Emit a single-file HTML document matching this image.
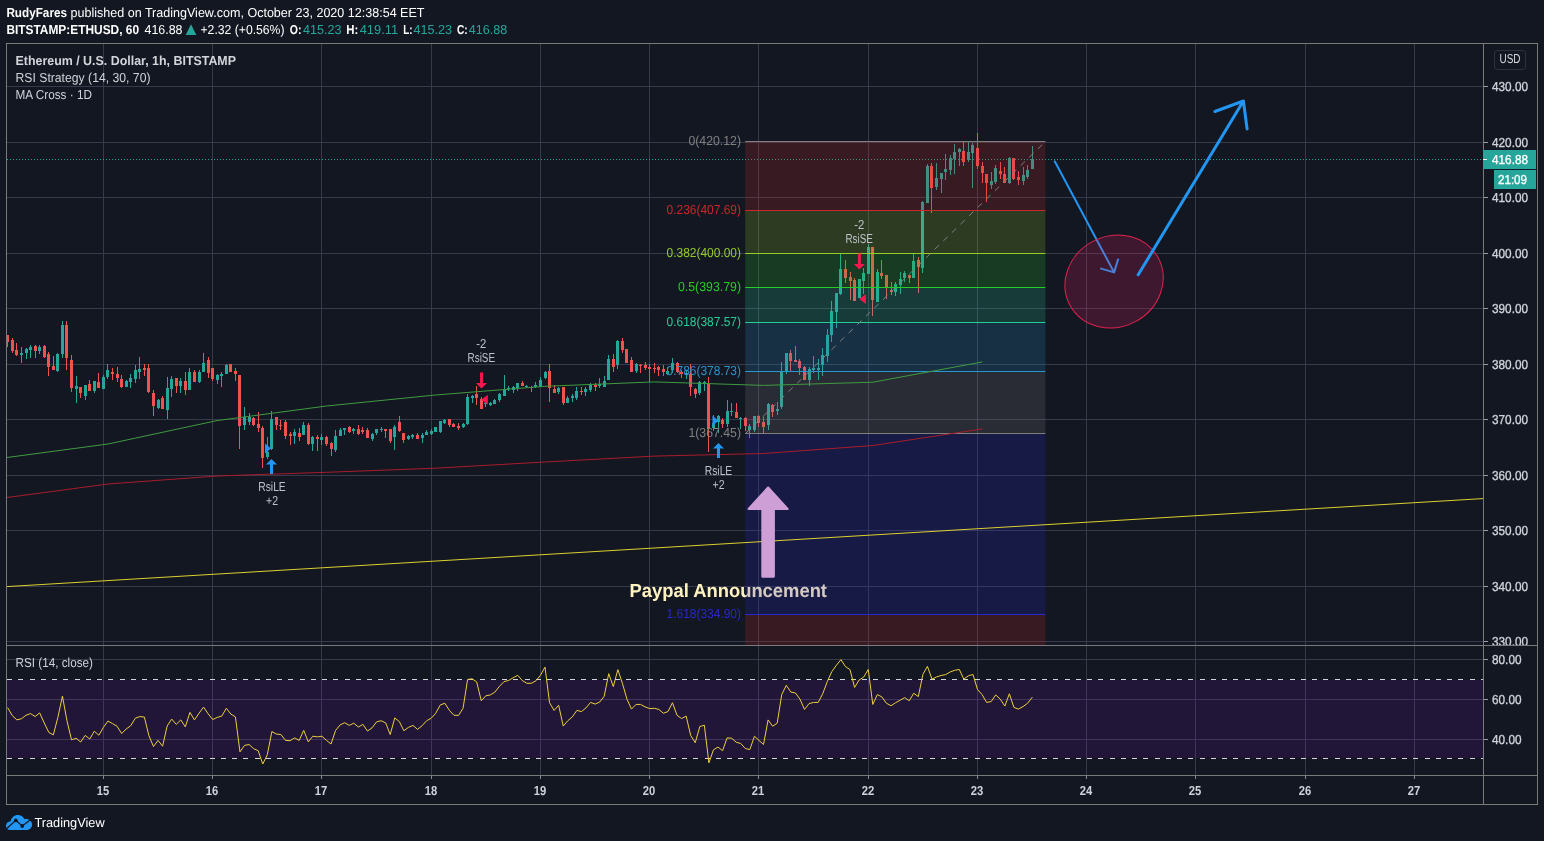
<!DOCTYPE html>
<html><head><meta charset="utf-8"><title>ETHUSD chart</title>
<style>html,body{margin:0;padding:0;background:#131722;}body{width:1544px;height:841px;overflow:hidden;}svg{display:block;}</style>
</head><body>
<svg width="1544" height="841" viewBox="0 0 1544 841" font-family='"Liberation Sans", Arial, sans-serif' shape-rendering="crispEdges" text-rendering="geometricPrecision">
<rect x="0" y="0" width="1544" height="841" fill="#131722"/>
<g id="grid">
<rect x="103" y="44" width="1" height="731" fill="#363a4b"/>
<rect x="212" y="44" width="1" height="731" fill="#363a4b"/>
<rect x="321" y="44" width="1" height="731" fill="#363a4b"/>
<rect x="431" y="44" width="1" height="731" fill="#363a4b"/>
<rect x="540" y="44" width="1" height="731" fill="#363a4b"/>
<rect x="649" y="44" width="1" height="731" fill="#363a4b"/>
<rect x="758" y="44" width="1" height="731" fill="#363a4b"/>
<rect x="868" y="44" width="1" height="731" fill="#363a4b"/>
<rect x="977" y="44" width="1" height="731" fill="#363a4b"/>
<rect x="1086" y="44" width="1" height="731" fill="#363a4b"/>
<rect x="1195" y="44" width="1" height="731" fill="#363a4b"/>
<rect x="1305" y="44" width="1" height="731" fill="#363a4b"/>
<rect x="1414" y="44" width="1" height="731" fill="#363a4b"/>
<rect x="7" y="641" width="1476" height="1" fill="#363a4b"/>
<rect x="7" y="586" width="1476" height="1" fill="#363a4b"/>
<rect x="7" y="530" width="1476" height="1" fill="#363a4b"/>
<rect x="7" y="475" width="1476" height="1" fill="#363a4b"/>
<rect x="7" y="419" width="1476" height="1" fill="#363a4b"/>
<rect x="7" y="364" width="1476" height="1" fill="#363a4b"/>
<rect x="7" y="308" width="1476" height="1" fill="#363a4b"/>
<rect x="7" y="253" width="1476" height="1" fill="#363a4b"/>
<rect x="7" y="197" width="1476" height="1" fill="#363a4b"/>
<rect x="7" y="142" width="1476" height="1" fill="#363a4b"/>
<rect x="7" y="86" width="1476" height="1" fill="#363a4b"/>
<rect x="7" y="659" width="1476" height="1" fill="#363a4b"/>
<rect x="7" y="699" width="1476" height="1" fill="#363a4b"/>
<rect x="7" y="739" width="1476" height="1" fill="#363a4b"/>
</g>
<rect x="7" y="680" width="1476" height="78" fill="#9915ff" fill-opacity="0.1"/>
<line x1="7" y1="679.5" x2="1483" y2="679.5" stroke="#d6d3de" stroke-width="1" stroke-dasharray="5.2 6.05"/>
<line x1="7" y1="758.5" x2="1483" y2="758.5" stroke="#d6d3de" stroke-width="1" stroke-dasharray="5.2 6.05"/>
<line x1="7" y1="159.5" x2="1483" y2="159.5" stroke="#26a69a" stroke-width="1" stroke-dasharray="1 2"/>
<g id="candles">
<rect x="7" y="335" width="1" height="12" fill="#ef5350"/>
<rect x="7" y="335" width="2" height="7" fill="#ef5350"/>
<rect x="12" y="338" width="1" height="15" fill="#ef5350"/>
<rect x="11" y="340" width="3" height="11" fill="#ef5350"/>
<rect x="16" y="343" width="1" height="13" fill="#ef5350"/>
<rect x="15" y="350" width="3" height="5" fill="#ef5350"/>
<rect x="21" y="347" width="1" height="16" fill="#26a69a"/>
<rect x="20" y="353" width="3" height="2" fill="#26a69a"/>
<rect x="26" y="348" width="1" height="11" fill="#26a69a"/>
<rect x="25" y="349" width="3" height="4" fill="#26a69a"/>
<rect x="30" y="345" width="1" height="13" fill="#26a69a"/>
<rect x="29" y="347" width="3" height="3" fill="#26a69a"/>
<rect x="35" y="345" width="1" height="13" fill="#ef5350"/>
<rect x="34" y="346" width="3" height="5" fill="#ef5350"/>
<rect x="39" y="345" width="1" height="9" fill="#26a69a"/>
<rect x="38" y="347" width="3" height="4" fill="#26a69a"/>
<rect x="44" y="345" width="1" height="13" fill="#ef5350"/>
<rect x="43" y="346" width="3" height="11" fill="#ef5350"/>
<rect x="48" y="352" width="1" height="24" fill="#ef5350"/>
<rect x="47" y="354" width="3" height="13" fill="#ef5350"/>
<rect x="53" y="356" width="1" height="14" fill="#ef5350"/>
<rect x="52" y="366" width="3" height="4" fill="#ef5350"/>
<rect x="57" y="353" width="1" height="19" fill="#26a69a"/>
<rect x="56" y="354" width="3" height="17" fill="#26a69a"/>
<rect x="62" y="321" width="1" height="37" fill="#26a69a"/>
<rect x="61" y="325" width="3" height="29" fill="#26a69a"/>
<rect x="66" y="321" width="1" height="49" fill="#ef5350"/>
<rect x="65" y="325" width="3" height="33" fill="#ef5350"/>
<rect x="71" y="355" width="1" height="37" fill="#ef5350"/>
<rect x="70" y="360" width="3" height="28" fill="#ef5350"/>
<rect x="76" y="376" width="1" height="27" fill="#26a69a"/>
<rect x="75" y="386" width="3" height="3" fill="#26a69a"/>
<rect x="80" y="387" width="1" height="11" fill="#ef5350"/>
<rect x="79" y="387" width="3" height="6" fill="#ef5350"/>
<rect x="85" y="385" width="1" height="15" fill="#26a69a"/>
<rect x="84" y="385" width="3" height="11" fill="#26a69a"/>
<rect x="89" y="380" width="1" height="11" fill="#ef5350"/>
<rect x="88" y="384" width="3" height="7" fill="#ef5350"/>
<rect x="94" y="381" width="1" height="12" fill="#26a69a"/>
<rect x="93" y="381" width="3" height="10" fill="#26a69a"/>
<rect x="98" y="373" width="1" height="15" fill="#ef5350"/>
<rect x="97" y="382" width="3" height="6" fill="#ef5350"/>
<rect x="103" y="375" width="1" height="14" fill="#26a69a"/>
<rect x="102" y="377" width="3" height="12" fill="#26a69a"/>
<rect x="107" y="364" width="1" height="15" fill="#26a69a"/>
<rect x="106" y="370" width="3" height="7" fill="#26a69a"/>
<rect x="112" y="368" width="1" height="12" fill="#ef5350"/>
<rect x="111" y="372" width="3" height="2" fill="#ef5350"/>
<rect x="117" y="367" width="1" height="15" fill="#ef5350"/>
<rect x="116" y="374" width="3" height="4" fill="#ef5350"/>
<rect x="121" y="375" width="1" height="13" fill="#ef5350"/>
<rect x="120" y="379" width="3" height="8" fill="#ef5350"/>
<rect x="126" y="380" width="1" height="7" fill="#26a69a"/>
<rect x="125" y="381" width="3" height="6" fill="#26a69a"/>
<rect x="130" y="374" width="1" height="14" fill="#26a69a"/>
<rect x="129" y="378" width="3" height="4" fill="#26a69a"/>
<rect x="135" y="365" width="1" height="18" fill="#26a69a"/>
<rect x="134" y="370" width="3" height="9" fill="#26a69a"/>
<rect x="139" y="357" width="1" height="22" fill="#26a69a"/>
<rect x="138" y="369" width="3" height="3" fill="#26a69a"/>
<rect x="144" y="364" width="1" height="12" fill="#ef5350"/>
<rect x="143" y="368" width="3" height="2" fill="#ef5350"/>
<rect x="148" y="364" width="1" height="29" fill="#ef5350"/>
<rect x="147" y="368" width="3" height="24" fill="#ef5350"/>
<rect x="153" y="390" width="1" height="26" fill="#ef5350"/>
<rect x="152" y="393" width="3" height="13" fill="#ef5350"/>
<rect x="158" y="399" width="1" height="10" fill="#26a69a"/>
<rect x="157" y="400" width="3" height="8" fill="#26a69a"/>
<rect x="162" y="396" width="1" height="13" fill="#ef5350"/>
<rect x="161" y="398" width="3" height="11" fill="#ef5350"/>
<rect x="167" y="377" width="1" height="42" fill="#26a69a"/>
<rect x="166" y="388" width="3" height="22" fill="#26a69a"/>
<rect x="171" y="376" width="1" height="21" fill="#26a69a"/>
<rect x="170" y="379" width="3" height="10" fill="#26a69a"/>
<rect x="176" y="378" width="1" height="15" fill="#ef5350"/>
<rect x="175" y="378" width="3" height="8" fill="#ef5350"/>
<rect x="180" y="378" width="1" height="15" fill="#26a69a"/>
<rect x="179" y="381" width="3" height="5" fill="#26a69a"/>
<rect x="185" y="372" width="1" height="23" fill="#ef5350"/>
<rect x="184" y="381" width="3" height="9" fill="#ef5350"/>
<rect x="189" y="368" width="1" height="22" fill="#26a69a"/>
<rect x="188" y="372" width="3" height="18" fill="#26a69a"/>
<rect x="194" y="370" width="1" height="12" fill="#ef5350"/>
<rect x="193" y="372" width="3" height="10" fill="#ef5350"/>
<rect x="199" y="370" width="1" height="13" fill="#26a69a"/>
<rect x="198" y="372" width="3" height="10" fill="#26a69a"/>
<rect x="203" y="353" width="1" height="19" fill="#26a69a"/>
<rect x="202" y="363" width="3" height="9" fill="#26a69a"/>
<rect x="208" y="357" width="1" height="21" fill="#ef5350"/>
<rect x="207" y="360" width="3" height="13" fill="#ef5350"/>
<rect x="212" y="368" width="1" height="13" fill="#ef5350"/>
<rect x="211" y="368" width="3" height="11" fill="#ef5350"/>
<rect x="217" y="374" width="1" height="10" fill="#26a69a"/>
<rect x="216" y="375" width="3" height="5" fill="#26a69a"/>
<rect x="221" y="372" width="1" height="15" fill="#26a69a"/>
<rect x="220" y="374" width="3" height="2" fill="#26a69a"/>
<rect x="226" y="364" width="1" height="10" fill="#26a69a"/>
<rect x="225" y="365" width="3" height="9" fill="#26a69a"/>
<rect x="230" y="364" width="1" height="8" fill="#ef5350"/>
<rect x="229" y="364" width="3" height="8" fill="#ef5350"/>
<rect x="235" y="368" width="1" height="13" fill="#ef5350"/>
<rect x="234" y="371" width="3" height="3" fill="#ef5350"/>
<rect x="239" y="375" width="1" height="74" fill="#ef5350"/>
<rect x="238" y="375" width="3" height="51" fill="#ef5350"/>
<rect x="244" y="407" width="1" height="23" fill="#26a69a"/>
<rect x="243" y="417" width="3" height="8" fill="#26a69a"/>
<rect x="249" y="413" width="1" height="12" fill="#26a69a"/>
<rect x="248" y="417" width="3" height="5" fill="#26a69a"/>
<rect x="253" y="417" width="1" height="9" fill="#ef5350"/>
<rect x="252" y="418" width="3" height="7" fill="#ef5350"/>
<rect x="258" y="412" width="1" height="20" fill="#ef5350"/>
<rect x="257" y="424" width="3" height="4" fill="#ef5350"/>
<rect x="262" y="426" width="1" height="42" fill="#ef5350"/>
<rect x="261" y="428" width="3" height="30" fill="#ef5350"/>
<rect x="267" y="437" width="1" height="22" fill="#26a69a"/>
<rect x="266" y="452" width="3" height="5" fill="#26a69a"/>
<rect x="271" y="411" width="1" height="39" fill="#26a69a"/>
<rect x="270" y="419" width="3" height="30" fill="#26a69a"/>
<rect x="276" y="417" width="1" height="13" fill="#ef5350"/>
<rect x="275" y="417" width="3" height="8" fill="#ef5350"/>
<rect x="280" y="420" width="1" height="10" fill="#ef5350"/>
<rect x="279" y="425" width="3" height="1" fill="#ef5350"/>
<rect x="285" y="420" width="1" height="19" fill="#ef5350"/>
<rect x="284" y="422" width="3" height="14" fill="#ef5350"/>
<rect x="290" y="432" width="1" height="13" fill="#ef5350"/>
<rect x="289" y="434" width="3" height="2" fill="#ef5350"/>
<rect x="294" y="429" width="1" height="15" fill="#26a69a"/>
<rect x="293" y="432" width="3" height="4" fill="#26a69a"/>
<rect x="299" y="428" width="1" height="13" fill="#ef5350"/>
<rect x="298" y="433" width="3" height="4" fill="#ef5350"/>
<rect x="303" y="422" width="1" height="13" fill="#26a69a"/>
<rect x="302" y="425" width="3" height="10" fill="#26a69a"/>
<rect x="308" y="423" width="1" height="22" fill="#ef5350"/>
<rect x="307" y="425" width="3" height="19" fill="#ef5350"/>
<rect x="312" y="436" width="1" height="15" fill="#26a69a"/>
<rect x="311" y="437" width="3" height="7" fill="#26a69a"/>
<rect x="317" y="435" width="1" height="16" fill="#ef5350"/>
<rect x="316" y="437" width="3" height="2" fill="#ef5350"/>
<rect x="321" y="434" width="1" height="11" fill="#26a69a"/>
<rect x="320" y="437" width="3" height="3" fill="#26a69a"/>
<rect x="326" y="436" width="1" height="10" fill="#ef5350"/>
<rect x="325" y="437" width="3" height="7" fill="#ef5350"/>
<rect x="331" y="442" width="1" height="14" fill="#ef5350"/>
<rect x="330" y="443" width="3" height="6" fill="#ef5350"/>
<rect x="335" y="430" width="1" height="22" fill="#26a69a"/>
<rect x="334" y="436" width="3" height="14" fill="#26a69a"/>
<rect x="340" y="428" width="1" height="8" fill="#26a69a"/>
<rect x="339" y="430" width="3" height="6" fill="#26a69a"/>
<rect x="344" y="428" width="1" height="7" fill="#26a69a"/>
<rect x="343" y="428" width="3" height="2" fill="#26a69a"/>
<rect x="349" y="426" width="1" height="7" fill="#ef5350"/>
<rect x="348" y="427" width="3" height="5" fill="#ef5350"/>
<rect x="353" y="428" width="1" height="6" fill="#26a69a"/>
<rect x="352" y="429" width="3" height="2" fill="#26a69a"/>
<rect x="358" y="425" width="1" height="10" fill="#ef5350"/>
<rect x="357" y="429" width="3" height="5" fill="#ef5350"/>
<rect x="362" y="427" width="1" height="7" fill="#ef5350"/>
<rect x="361" y="430" width="3" height="2" fill="#ef5350"/>
<rect x="367" y="428" width="1" height="10" fill="#ef5350"/>
<rect x="366" y="430" width="3" height="8" fill="#ef5350"/>
<rect x="372" y="433" width="1" height="8" fill="#26a69a"/>
<rect x="371" y="434" width="3" height="5" fill="#26a69a"/>
<rect x="376" y="429" width="1" height="6" fill="#26a69a"/>
<rect x="375" y="429" width="3" height="4" fill="#26a69a"/>
<rect x="381" y="427" width="1" height="5" fill="#26a69a"/>
<rect x="380" y="429" width="3" height="1" fill="#26a69a"/>
<rect x="385" y="429" width="1" height="9" fill="#ef5350"/>
<rect x="384" y="429" width="3" height="2" fill="#ef5350"/>
<rect x="390" y="429" width="1" height="14" fill="#ef5350"/>
<rect x="389" y="429" width="3" height="12" fill="#ef5350"/>
<rect x="394" y="425" width="1" height="25" fill="#26a69a"/>
<rect x="393" y="427" width="3" height="10" fill="#26a69a"/>
<rect x="399" y="416" width="1" height="16" fill="#ef5350"/>
<rect x="398" y="422" width="3" height="9" fill="#ef5350"/>
<rect x="403" y="433" width="1" height="10" fill="#ef5350"/>
<rect x="402" y="433" width="3" height="7" fill="#ef5350"/>
<rect x="408" y="435" width="1" height="5" fill="#26a69a"/>
<rect x="407" y="436" width="3" height="3" fill="#26a69a"/>
<rect x="412" y="434" width="1" height="5" fill="#26a69a"/>
<rect x="411" y="435" width="3" height="2" fill="#26a69a"/>
<rect x="417" y="433" width="1" height="6" fill="#ef5350"/>
<rect x="416" y="435" width="3" height="4" fill="#ef5350"/>
<rect x="422" y="433" width="1" height="10" fill="#26a69a"/>
<rect x="421" y="435" width="3" height="3" fill="#26a69a"/>
<rect x="426" y="430" width="1" height="5" fill="#26a69a"/>
<rect x="425" y="432" width="3" height="3" fill="#26a69a"/>
<rect x="431" y="429" width="1" height="6" fill="#26a69a"/>
<rect x="430" y="431" width="3" height="3" fill="#26a69a"/>
<rect x="435" y="427" width="1" height="5" fill="#26a69a"/>
<rect x="434" y="427" width="3" height="5" fill="#26a69a"/>
<rect x="440" y="421" width="1" height="12" fill="#26a69a"/>
<rect x="439" y="421" width="3" height="11" fill="#26a69a"/>
<rect x="444" y="419" width="1" height="5" fill="#26a69a"/>
<rect x="443" y="420" width="3" height="3" fill="#26a69a"/>
<rect x="449" y="419" width="1" height="8" fill="#ef5350"/>
<rect x="448" y="419" width="3" height="6" fill="#ef5350"/>
<rect x="453" y="423" width="1" height="4" fill="#ef5350"/>
<rect x="452" y="424" width="3" height="3" fill="#ef5350"/>
<rect x="458" y="423" width="1" height="7" fill="#ef5350"/>
<rect x="457" y="426" width="3" height="2" fill="#ef5350"/>
<rect x="463" y="423" width="1" height="5" fill="#26a69a"/>
<rect x="462" y="424" width="3" height="3" fill="#26a69a"/>
<rect x="467" y="394" width="1" height="31" fill="#26a69a"/>
<rect x="466" y="397" width="3" height="27" fill="#26a69a"/>
<rect x="472" y="395" width="1" height="8" fill="#26a69a"/>
<rect x="471" y="396" width="3" height="2" fill="#26a69a"/>
<rect x="476" y="386" width="1" height="19" fill="#ef5350"/>
<rect x="475" y="394" width="3" height="4" fill="#ef5350"/>
<rect x="481" y="397" width="1" height="12" fill="#ef5350"/>
<rect x="480" y="399" width="3" height="10" fill="#ef5350"/>
<rect x="485" y="402" width="1" height="5" fill="#26a69a"/>
<rect x="484" y="403" width="3" height="1" fill="#26a69a"/>
<rect x="490" y="402" width="1" height="4" fill="#26a69a"/>
<rect x="489" y="403" width="3" height="2" fill="#26a69a"/>
<rect x="494" y="399" width="1" height="5" fill="#26a69a"/>
<rect x="493" y="400" width="3" height="4" fill="#26a69a"/>
<rect x="499" y="393" width="1" height="9" fill="#26a69a"/>
<rect x="498" y="394" width="3" height="6" fill="#26a69a"/>
<rect x="504" y="375" width="1" height="21" fill="#26a69a"/>
<rect x="503" y="390" width="3" height="6" fill="#26a69a"/>
<rect x="508" y="386" width="1" height="5" fill="#26a69a"/>
<rect x="507" y="388" width="3" height="1" fill="#26a69a"/>
<rect x="513" y="386" width="1" height="7" fill="#26a69a"/>
<rect x="512" y="387" width="3" height="3" fill="#26a69a"/>
<rect x="517" y="383" width="1" height="8" fill="#26a69a"/>
<rect x="516" y="383" width="3" height="5" fill="#26a69a"/>
<rect x="522" y="381" width="1" height="5" fill="#ef5350"/>
<rect x="521" y="383" width="3" height="3" fill="#ef5350"/>
<rect x="526" y="385" width="1" height="3" fill="#26a69a"/>
<rect x="525" y="386" width="3" height="1" fill="#26a69a"/>
<rect x="531" y="386" width="1" height="6" fill="#ef5350"/>
<rect x="530" y="387" width="3" height="1" fill="#ef5350"/>
<rect x="535" y="382" width="1" height="6" fill="#26a69a"/>
<rect x="534" y="385" width="3" height="2" fill="#26a69a"/>
<rect x="540" y="377" width="1" height="10" fill="#26a69a"/>
<rect x="539" y="380" width="3" height="7" fill="#26a69a"/>
<rect x="545" y="371" width="1" height="8" fill="#26a69a"/>
<rect x="544" y="372" width="3" height="6" fill="#26a69a"/>
<rect x="549" y="364" width="1" height="38" fill="#ef5350"/>
<rect x="548" y="371" width="3" height="17" fill="#ef5350"/>
<rect x="554" y="385" width="1" height="8" fill="#ef5350"/>
<rect x="553" y="389" width="3" height="4" fill="#ef5350"/>
<rect x="558" y="387" width="1" height="7" fill="#26a69a"/>
<rect x="557" y="388" width="3" height="4" fill="#26a69a"/>
<rect x="563" y="387" width="1" height="18" fill="#ef5350"/>
<rect x="562" y="387" width="3" height="16" fill="#ef5350"/>
<rect x="567" y="396" width="1" height="7" fill="#26a69a"/>
<rect x="566" y="398" width="3" height="5" fill="#26a69a"/>
<rect x="572" y="394" width="1" height="8" fill="#26a69a"/>
<rect x="571" y="396" width="3" height="2" fill="#26a69a"/>
<rect x="576" y="387" width="1" height="13" fill="#26a69a"/>
<rect x="575" y="391" width="3" height="7" fill="#26a69a"/>
<rect x="581" y="387" width="1" height="8" fill="#ef5350"/>
<rect x="580" y="391" width="3" height="1" fill="#ef5350"/>
<rect x="585" y="387" width="1" height="9" fill="#26a69a"/>
<rect x="584" y="389" width="3" height="3" fill="#26a69a"/>
<rect x="590" y="383" width="1" height="9" fill="#26a69a"/>
<rect x="589" y="385" width="3" height="5" fill="#26a69a"/>
<rect x="595" y="383" width="1" height="8" fill="#ef5350"/>
<rect x="594" y="385" width="3" height="2" fill="#ef5350"/>
<rect x="599" y="378" width="1" height="10" fill="#26a69a"/>
<rect x="598" y="384" width="3" height="2" fill="#26a69a"/>
<rect x="604" y="376" width="1" height="11" fill="#26a69a"/>
<rect x="603" y="381" width="3" height="6" fill="#26a69a"/>
<rect x="608" y="355" width="1" height="25" fill="#26a69a"/>
<rect x="607" y="359" width="3" height="21" fill="#26a69a"/>
<rect x="613" y="354" width="1" height="18" fill="#ef5350"/>
<rect x="612" y="359" width="3" height="8" fill="#ef5350"/>
<rect x="617" y="340" width="1" height="29" fill="#26a69a"/>
<rect x="616" y="341" width="3" height="24" fill="#26a69a"/>
<rect x="622" y="338" width="1" height="15" fill="#ef5350"/>
<rect x="621" y="341" width="3" height="9" fill="#ef5350"/>
<rect x="626" y="349" width="1" height="14" fill="#ef5350"/>
<rect x="625" y="349" width="3" height="14" fill="#ef5350"/>
<rect x="631" y="357" width="1" height="15" fill="#ef5350"/>
<rect x="630" y="360" width="3" height="12" fill="#ef5350"/>
<rect x="636" y="363" width="1" height="10" fill="#26a69a"/>
<rect x="635" y="364" width="3" height="7" fill="#26a69a"/>
<rect x="640" y="364" width="1" height="9" fill="#ef5350"/>
<rect x="639" y="365" width="3" height="1" fill="#ef5350"/>
<rect x="645" y="362" width="1" height="8" fill="#ef5350"/>
<rect x="644" y="365" width="3" height="3" fill="#ef5350"/>
<rect x="649" y="364" width="1" height="18" fill="#ef5350"/>
<rect x="648" y="367" width="3" height="2" fill="#ef5350"/>
<rect x="654" y="363" width="1" height="10" fill="#ef5350"/>
<rect x="653" y="368" width="3" height="1" fill="#ef5350"/>
<rect x="658" y="366" width="1" height="10" fill="#ef5350"/>
<rect x="657" y="367" width="3" height="3" fill="#ef5350"/>
<rect x="663" y="365" width="1" height="11" fill="#ef5350"/>
<rect x="662" y="369" width="3" height="3" fill="#ef5350"/>
<rect x="667" y="367" width="1" height="8" fill="#26a69a"/>
<rect x="666" y="371" width="3" height="3" fill="#26a69a"/>
<rect x="672" y="358" width="1" height="15" fill="#26a69a"/>
<rect x="671" y="363" width="3" height="7" fill="#26a69a"/>
<rect x="677" y="362" width="1" height="11" fill="#ef5350"/>
<rect x="676" y="363" width="3" height="9" fill="#ef5350"/>
<rect x="681" y="370" width="1" height="8" fill="#ef5350"/>
<rect x="680" y="372" width="3" height="2" fill="#ef5350"/>
<rect x="686" y="370" width="1" height="9" fill="#26a69a"/>
<rect x="685" y="373" width="3" height="2" fill="#26a69a"/>
<rect x="690" y="364" width="1" height="32" fill="#ef5350"/>
<rect x="689" y="374" width="3" height="13" fill="#ef5350"/>
<rect x="695" y="388" width="1" height="10" fill="#ef5350"/>
<rect x="694" y="389" width="3" height="5" fill="#ef5350"/>
<rect x="699" y="381" width="1" height="14" fill="#26a69a"/>
<rect x="698" y="382" width="3" height="11" fill="#26a69a"/>
<rect x="704" y="381" width="1" height="10" fill="#26a69a"/>
<rect x="703" y="382" width="3" height="1" fill="#26a69a"/>
<rect x="708" y="377" width="1" height="75" fill="#ef5350"/>
<rect x="707" y="383" width="3" height="46" fill="#ef5350"/>
<rect x="713" y="415" width="1" height="16" fill="#26a69a"/>
<rect x="712" y="423" width="3" height="5" fill="#26a69a"/>
<rect x="718" y="415" width="1" height="18" fill="#26a69a"/>
<rect x="717" y="416" width="3" height="6" fill="#26a69a"/>
<rect x="722" y="418" width="1" height="10" fill="#ef5350"/>
<rect x="721" y="420" width="3" height="4" fill="#ef5350"/>
<rect x="727" y="400" width="1" height="27" fill="#26a69a"/>
<rect x="726" y="411" width="3" height="13" fill="#26a69a"/>
<rect x="731" y="403" width="1" height="13" fill="#26a69a"/>
<rect x="730" y="411" width="3" height="1" fill="#26a69a"/>
<rect x="736" y="403" width="1" height="15" fill="#ef5350"/>
<rect x="735" y="412" width="3" height="6" fill="#ef5350"/>
<rect x="740" y="417" width="1" height="12" fill="#26a69a"/>
<rect x="739" y="418" width="3" height="1" fill="#26a69a"/>
<rect x="745" y="417" width="1" height="14" fill="#ef5350"/>
<rect x="744" y="418" width="3" height="8" fill="#ef5350"/>
<rect x="749" y="424" width="1" height="14" fill="#26a69a"/>
<rect x="748" y="426" width="3" height="4" fill="#26a69a"/>
<rect x="754" y="416" width="1" height="16" fill="#26a69a"/>
<rect x="753" y="416" width="3" height="14" fill="#26a69a"/>
<rect x="758" y="415" width="1" height="12" fill="#ef5350"/>
<rect x="757" y="416" width="3" height="7" fill="#ef5350"/>
<rect x="763" y="417" width="1" height="16" fill="#ef5350"/>
<rect x="762" y="422" width="3" height="5" fill="#ef5350"/>
<rect x="768" y="403" width="1" height="27" fill="#26a69a"/>
<rect x="767" y="404" width="3" height="21" fill="#26a69a"/>
<rect x="772" y="404" width="1" height="13" fill="#ef5350"/>
<rect x="771" y="405" width="3" height="7" fill="#ef5350"/>
<rect x="777" y="402" width="1" height="13" fill="#26a69a"/>
<rect x="776" y="409" width="3" height="2" fill="#26a69a"/>
<rect x="781" y="362" width="1" height="47" fill="#26a69a"/>
<rect x="780" y="371" width="3" height="36" fill="#26a69a"/>
<rect x="786" y="353" width="1" height="21" fill="#26a69a"/>
<rect x="785" y="353" width="3" height="18" fill="#26a69a"/>
<rect x="790" y="350" width="1" height="21" fill="#ef5350"/>
<rect x="789" y="353" width="3" height="8" fill="#ef5350"/>
<rect x="795" y="346" width="1" height="16" fill="#ef5350"/>
<rect x="794" y="360" width="3" height="2" fill="#ef5350"/>
<rect x="799" y="359" width="1" height="16" fill="#ef5350"/>
<rect x="798" y="361" width="3" height="7" fill="#ef5350"/>
<rect x="804" y="366" width="1" height="14" fill="#ef5350"/>
<rect x="803" y="367" width="3" height="13" fill="#ef5350"/>
<rect x="809" y="367" width="1" height="19" fill="#26a69a"/>
<rect x="808" y="369" width="3" height="11" fill="#26a69a"/>
<rect x="813" y="356" width="1" height="17" fill="#26a69a"/>
<rect x="812" y="368" width="3" height="2" fill="#26a69a"/>
<rect x="818" y="359" width="1" height="21" fill="#26a69a"/>
<rect x="817" y="368" width="3" height="2" fill="#26a69a"/>
<rect x="822" y="348" width="1" height="28" fill="#26a69a"/>
<rect x="821" y="355" width="3" height="10" fill="#26a69a"/>
<rect x="827" y="329" width="1" height="33" fill="#26a69a"/>
<rect x="826" y="335" width="3" height="21" fill="#26a69a"/>
<rect x="831" y="301" width="1" height="41" fill="#26a69a"/>
<rect x="830" y="311" width="3" height="24" fill="#26a69a"/>
<rect x="836" y="293" width="1" height="35" fill="#26a69a"/>
<rect x="835" y="293" width="3" height="19" fill="#26a69a"/>
<rect x="840" y="254" width="1" height="41" fill="#26a69a"/>
<rect x="839" y="269" width="3" height="25" fill="#26a69a"/>
<rect x="845" y="260" width="1" height="23" fill="#ef5350"/>
<rect x="844" y="269" width="3" height="9" fill="#ef5350"/>
<rect x="850" y="272" width="1" height="28" fill="#ef5350"/>
<rect x="849" y="277" width="3" height="4" fill="#ef5350"/>
<rect x="854" y="278" width="1" height="23" fill="#ef5350"/>
<rect x="853" y="280" width="3" height="21" fill="#ef5350"/>
<rect x="859" y="279" width="1" height="19" fill="#26a69a"/>
<rect x="858" y="279" width="3" height="19" fill="#26a69a"/>
<rect x="863" y="268" width="1" height="26" fill="#26a69a"/>
<rect x="862" y="273" width="3" height="8" fill="#26a69a"/>
<rect x="868" y="244" width="1" height="30" fill="#26a69a"/>
<rect x="867" y="247" width="3" height="27" fill="#26a69a"/>
<rect x="872" y="247" width="1" height="69" fill="#ef5350"/>
<rect x="871" y="247" width="3" height="53" fill="#ef5350"/>
<rect x="877" y="269" width="1" height="33" fill="#26a69a"/>
<rect x="876" y="272" width="3" height="30" fill="#26a69a"/>
<rect x="881" y="260" width="1" height="19" fill="#ef5350"/>
<rect x="880" y="273" width="3" height="3" fill="#ef5350"/>
<rect x="886" y="275" width="1" height="24" fill="#ef5350"/>
<rect x="885" y="275" width="3" height="13" fill="#ef5350"/>
<rect x="891" y="282" width="1" height="13" fill="#ef5350"/>
<rect x="890" y="290" width="3" height="2" fill="#ef5350"/>
<rect x="895" y="282" width="1" height="14" fill="#26a69a"/>
<rect x="894" y="284" width="3" height="8" fill="#26a69a"/>
<rect x="900" y="272" width="1" height="22" fill="#26a69a"/>
<rect x="899" y="279" width="3" height="6" fill="#26a69a"/>
<rect x="904" y="271" width="1" height="11" fill="#26a69a"/>
<rect x="903" y="273" width="3" height="5" fill="#26a69a"/>
<rect x="909" y="275" width="1" height="8" fill="#ef5350"/>
<rect x="908" y="275" width="3" height="3" fill="#ef5350"/>
<rect x="913" y="254" width="1" height="24" fill="#26a69a"/>
<rect x="912" y="261" width="3" height="17" fill="#26a69a"/>
<rect x="918" y="257" width="1" height="36" fill="#ef5350"/>
<rect x="917" y="260" width="3" height="7" fill="#ef5350"/>
<rect x="922" y="201" width="1" height="72" fill="#26a69a"/>
<rect x="921" y="202" width="3" height="66" fill="#26a69a"/>
<rect x="927" y="164" width="1" height="39" fill="#26a69a"/>
<rect x="926" y="166" width="3" height="37" fill="#26a69a"/>
<rect x="931" y="163" width="1" height="50" fill="#ef5350"/>
<rect x="930" y="166" width="3" height="22" fill="#ef5350"/>
<rect x="936" y="163" width="1" height="27" fill="#26a69a"/>
<rect x="935" y="178" width="3" height="9" fill="#26a69a"/>
<rect x="941" y="173" width="1" height="20" fill="#26a69a"/>
<rect x="940" y="173" width="3" height="6" fill="#26a69a"/>
<rect x="945" y="154" width="1" height="26" fill="#26a69a"/>
<rect x="944" y="169" width="3" height="3" fill="#26a69a"/>
<rect x="950" y="155" width="1" height="20" fill="#26a69a"/>
<rect x="949" y="158" width="3" height="12" fill="#26a69a"/>
<rect x="954" y="144" width="1" height="30" fill="#26a69a"/>
<rect x="953" y="152" width="3" height="7" fill="#26a69a"/>
<rect x="959" y="148" width="1" height="18" fill="#26a69a"/>
<rect x="958" y="149" width="3" height="3" fill="#26a69a"/>
<rect x="963" y="142" width="1" height="24" fill="#ef5350"/>
<rect x="962" y="151" width="3" height="11" fill="#ef5350"/>
<rect x="968" y="142" width="1" height="20" fill="#26a69a"/>
<rect x="967" y="152" width="3" height="8" fill="#26a69a"/>
<rect x="972" y="143" width="1" height="45" fill="#26a69a"/>
<rect x="971" y="145" width="3" height="8" fill="#26a69a"/>
<rect x="977" y="133" width="1" height="36" fill="#ef5350"/>
<rect x="976" y="148" width="3" height="18" fill="#ef5350"/>
<rect x="982" y="162" width="1" height="21" fill="#ef5350"/>
<rect x="981" y="166" width="3" height="7" fill="#ef5350"/>
<rect x="986" y="174" width="1" height="28" fill="#ef5350"/>
<rect x="985" y="174" width="3" height="9" fill="#ef5350"/>
<rect x="991" y="172" width="1" height="17" fill="#26a69a"/>
<rect x="990" y="181" width="3" height="4" fill="#26a69a"/>
<rect x="995" y="165" width="1" height="19" fill="#26a69a"/>
<rect x="994" y="168" width="3" height="14" fill="#26a69a"/>
<rect x="1000" y="162" width="1" height="17" fill="#ef5350"/>
<rect x="999" y="171" width="3" height="3" fill="#ef5350"/>
<rect x="1004" y="167" width="1" height="16" fill="#ef5350"/>
<rect x="1003" y="174" width="3" height="9" fill="#ef5350"/>
<rect x="1009" y="157" width="1" height="27" fill="#26a69a"/>
<rect x="1008" y="158" width="3" height="25" fill="#26a69a"/>
<rect x="1013" y="158" width="1" height="22" fill="#ef5350"/>
<rect x="1012" y="158" width="3" height="21" fill="#ef5350"/>
<rect x="1018" y="171" width="1" height="14" fill="#ef5350"/>
<rect x="1017" y="177" width="3" height="3" fill="#ef5350"/>
<rect x="1023" y="167" width="1" height="18" fill="#26a69a"/>
<rect x="1022" y="175" width="3" height="6" fill="#26a69a"/>
<rect x="1027" y="165" width="1" height="14" fill="#26a69a"/>
<rect x="1026" y="170" width="3" height="7" fill="#26a69a"/>
<rect x="1032" y="146" width="1" height="23" fill="#26a69a"/>
<rect x="1031" y="159" width="3" height="10" fill="#26a69a"/>
</g>
<text x="629.5" y="597.3" font-size="19" fill="#fff3c0" text-anchor="start" font-weight="bold" textLength="197.5" lengthAdjust="spacingAndGlyphs">Paypal Announcement</text>
<g id="fib">
<rect x="745.2" y="141" width="300.2" height="69" fill="#cc2828" fill-opacity="0.2" shape-rendering="auto"/>
<rect x="745.2" y="210" width="300.2" height="43" fill="#95cc28" fill-opacity="0.2" shape-rendering="auto"/>
<rect x="745.2" y="253" width="300.2" height="34" fill="#28cc28" fill-opacity="0.2" shape-rendering="auto"/>
<rect x="745.2" y="287" width="300.2" height="35" fill="#28cc95" fill-opacity="0.2" shape-rendering="auto"/>
<rect x="745.2" y="322" width="300.2" height="49" fill="#2895cc" fill-opacity="0.2" shape-rendering="auto"/>
<rect x="745.2" y="371" width="300.2" height="62" fill="#808080" fill-opacity="0.2" shape-rendering="auto"/>
<rect x="745.2" y="433" width="300.2" height="181" fill="#2828cc" fill-opacity="0.2" shape-rendering="auto"/>
<rect x="745.2" y="614" width="300.2" height="31" fill="#cc2828" fill-opacity="0.2" shape-rendering="auto"/>
<rect x="745.2" y="141" width="300.2" height="1" fill="#808080" shape-rendering="auto"/>
<rect x="745.2" y="210" width="300.2" height="1" fill="#cc2828" shape-rendering="auto"/>
<rect x="745.2" y="253" width="300.2" height="1" fill="#95cc28" shape-rendering="auto"/>
<rect x="745.2" y="287" width="300.2" height="1" fill="#28cc28" shape-rendering="auto"/>
<rect x="745.2" y="322" width="300.2" height="1" fill="#28cc95" shape-rendering="auto"/>
<rect x="745.2" y="371" width="300.2" height="1" fill="#2895cc" shape-rendering="auto"/>
<rect x="745.2" y="433" width="300.2" height="1" fill="#808080" shape-rendering="auto"/>
<rect x="745.2" y="614" width="300.2" height="1" fill="#2828cc" shape-rendering="auto"/>
</g>
<line x1="745.5" y1="433.5" x2="1045.5" y2="141.5" stroke="#808080" stroke-width="1" stroke-dasharray="6 6" shape-rendering="auto"/>
<text x="741" y="145.2" font-size="13" fill="#808080" text-anchor="end" font-weight="normal" textLength="52.57" lengthAdjust="spacingAndGlyphs">0(420.12)</text>
<text x="741" y="214.2" font-size="13" fill="#cc2828" text-anchor="end" font-weight="normal" textLength="74.49" lengthAdjust="spacingAndGlyphs">0.236(407.69)</text>
<text x="741" y="257.2" font-size="13" fill="#95cc28" text-anchor="end" font-weight="normal" textLength="74.49" lengthAdjust="spacingAndGlyphs">0.382(400.00)</text>
<text x="741" y="291.2" font-size="13" fill="#28cc28" text-anchor="end" font-weight="normal" textLength="63.03" lengthAdjust="spacingAndGlyphs">0.5(393.79)</text>
<text x="741" y="326.2" font-size="13" fill="#28cc95" text-anchor="end" font-weight="normal" textLength="74.49" lengthAdjust="spacingAndGlyphs">0.618(387.57)</text>
<text x="741" y="375.2" font-size="13" fill="#2895cc" text-anchor="end" font-weight="normal" textLength="74.49" lengthAdjust="spacingAndGlyphs">0.786(378.73)</text>
<text x="741" y="437.2" font-size="13" fill="#808080" text-anchor="end" font-weight="normal" textLength="52.57" lengthAdjust="spacingAndGlyphs">1(367.45)</text>
<text x="741" y="618.2" font-size="13" fill="#2828cc" text-anchor="end" font-weight="normal" textLength="74.49" lengthAdjust="spacingAndGlyphs">1.618(334.90)</text>
<polyline points="7,457.5 108,444 217,420.6 326.5,406 435.5,395 545,386.3 654.5,381.9 763.5,385.4 873,382.2 982,362" fill="none" stroke="#3f9a3f" stroke-width="1" stroke-linejoin="round" stroke-linecap="round" shape-rendering="auto"/>
<polyline points="7,497.5 108,484 217,476 326.5,472.3 435.5,468.2 545,462 654.5,456.1 763.5,453.5 873,445.5 982,429" fill="none" stroke="#a81c2c" stroke-width="1" stroke-linejoin="round" stroke-linecap="round" shape-rendering="auto"/>
<polyline points="7,586.6 1483,498.6" fill="none" stroke="#ddd030" stroke-width="1" stroke-linejoin="round" stroke-linecap="round" shape-rendering="auto"/>
<polyline points="7.7962,707.918 12.3488,715.742 16.9014,719.903 21.454,718.738 26.0066,715.242 30.5592,713.578 35.1118,716.574 39.6644,712.912 44.217,722.899 48.7696,732.387 53.3222,734.883 57.8748,717.406 62.4274,696.1 66.98,720.735 71.5326,739.877 76.0852,738.212 80.6378,742.041 85.1904,735.383 89.743,739.045 94.2956,731.222 98.8482,735.216 103.401,727.393 107.953,721.068 112.506,723.565 117.059,726.228 121.611,733.552 126.164,729.058 130.716,725.729 135.269,718.238 139.822,716.574 144.374,717.073 148.927,735.716 153.479,746.535 158.032,740.376 162.585,746.202 167.137,726.062 171.69,719.071 176.242,724.397 180.795,719.903 185.348,726.894 189.9,712.413 194.453,719.903 199.005,713.245 203.558,707.086 208.111,713.744 212.663,719.57 217.216,717.406 221.768,716.074 226.321,708.251 230.874,714.077 235.426,716.907 239.979,751.861 244.531,745.37 249.084,744.538 253.637,748.699 258.189,750.696 262.742,764.012 267.294,754.858 271.847,731.554 276.4,734.051 280.952,734.551 285.505,740.376 290.057,740.709 294.61,737.88 299.163,740.376 303.715,730.389 308.268,741.874 312.82,736.215 317.373,736.881 321.926,736.215 326.478,740.376 331.031,744.038 335.583,730.389 340.136,724.896 344.689,722.733 349.241,725.396 353.794,723.232 358.346,727.06 362.899,724.397 367.452,731.055 372.004,727.892 376.557,721.9 381.109,720.735 385.662,722.899 390.215,734.551 394.767,717.905 399.32,721.567 403.872,730.722 408.425,727.393 412.978,725.396 417.53,729.391 422.083,725.729 426.635,720.735 431.188,718.238 435.741,713.245 440.293,704.922 444.846,703.258 449.398,710.415 453.951,715.242 458.504,715.409 463.056,708.251 467.609,679.455 472.161,678.79 476.714,681.952 481.267,700.761 485.819,695.767 490.372,694.935 494.924,692.106 499.477,686.28 504.03,681.619 508.582,680.454 513.135,677.791 517.687,675.294 522.24,680.454 526.793,683.284 531.345,683.284 535.898,680.787 540.45,675.294 545.003,667.138 549.556,702.758 554.108,710.415 558.661,705.255 563.213,726.062 567.766,720.735 572.319,716.907 576.871,710.415 581.424,711.58 585.976,707.918 590.529,702.426 595.082,704.09 599.634,702.093 604.187,696.267 608.739,673.63 613.292,686.613 617.845,669.635 622.397,683.284 626.95,699.097 631.502,709.084 636.055,704.423 640.608,704.423 645.16,706.92 649.713,708.584 654.265,708.251 658.818,709.416 663.371,713.245 667.923,711.58 672.476,702.758 677.028,715.242 681.581,718.571 686.134,716.074 690.686,735.383 695.239,742.707 699.791,726.561 704.344,725.229 708.897,762.847 713.449,749.864 718.002,747.034 722.554,750.696 727.107,737.88 731.66,738.212 736.212,742.207 740.765,743.539 745.317,748.532 749.87,749.531 754.423,736.215 758.975,740.376 763.528,744.538 768.08,719.903 772.633,726.228 777.186,723.232 781.738,694.602 786.291,685.281 790.843,692.106 795.396,692.938 799.949,699.097 804.501,709.416 809.054,703.591 813.606,702.426 818.159,702.426 822.712,693.77 827.264,681.619 831.817,671.632 836.369,665.307 840.922,659.648 845.475,666.639 850.027,669.635 854.58,687.445 859.132,679.955 863.685,677.125 868.238,669.468 872.79,704.423 877.343,694.602 881.895,696.933 886.448,703.258 891.001,705.755 895.553,702.758 900.106,700.262 904.658,697.598 909.211,700.761 913.764,693.271 918.316,696.6 922.869,674.462 927.421,666.306 931.974,679.122 936.527,676.959 941.079,675.46 945.632,674.628 950.184,671.965 954.737,670.301 959.29,669.468 963.842,679.122 968.395,675.793 972.947,674.462 977.5,689.442 982.053,694.602 986.605,702.426 991.158,701.593 995.71,694.935 1000.26,699.097 1004.82,706.087 1009.37,693.77 1013.92,707.419 1018.47,709.084 1023.03,706.587 1027.58,703.258 1032.13,697.432" fill="none" stroke="#ecce3a" stroke-width="1" stroke-linejoin="round" stroke-linecap="round" shape-rendering="auto"/>
<path d="M271.5 459 L277.0 464.5 H273.0 V474 H270.0 V464.5 H266.0 Z" fill="#2196f3" shape-rendering="auto"/>
<path d="M271 448.4 L265 443.4 V453.4 Z" fill="#2196f3" shape-rendering="auto"/>
<text x="272" y="491" font-size="13" fill="#bfc2c9" text-anchor="middle" font-weight="normal" textLength="27.5" lengthAdjust="spacingAndGlyphs">RsiLE</text>
<text x="272" y="504.7" font-size="13" fill="#bfc2c9" text-anchor="middle" font-weight="normal" textLength="12" lengthAdjust="spacingAndGlyphs">+2</text>
<path d="M718.5 443 L724.0 448.5 H720.0 V458 H717.0 V448.5 H713.0 Z" fill="#2196f3" shape-rendering="auto"/>
<path d="M718.5 420.7 L712.5 415.7 V425.7 Z" fill="#2196f3" shape-rendering="auto"/>
<text x="718.5" y="475" font-size="13" fill="#bfc2c9" text-anchor="middle" font-weight="normal" textLength="27.5" lengthAdjust="spacingAndGlyphs">RsiLE</text>
<text x="718.5" y="488.9" font-size="13" fill="#bfc2c9" text-anchor="middle" font-weight="normal" textLength="12" lengthAdjust="spacingAndGlyphs">+2</text>
<path d="M481.5 388.5 L487.0 383.0 H483.0 V372.5 H480.0 V383.0 H476.0 Z" fill="#f5184f" shape-rendering="auto"/>
<path d="M481.3 399.7 L487.8 394.7 V404.7 Z" fill="#f5184f" shape-rendering="auto"/>
<text x="481.3" y="347.6" font-size="13" fill="#bfc2c9" text-anchor="middle" font-weight="normal" textLength="10" lengthAdjust="spacingAndGlyphs">-2</text>
<text x="481.3" y="362" font-size="13" fill="#bfc2c9" text-anchor="middle" font-weight="normal" textLength="27.5" lengthAdjust="spacingAndGlyphs">RsiSE</text>
<path d="M859.4 269.6 L864.9 264.1 H860.9 V253.60000000000002 H857.9 V264.1 H853.9 Z" fill="#f5184f" shape-rendering="auto"/>
<path d="M859.4 299 L865.9 294 V304 Z" fill="#f5184f" shape-rendering="auto"/>
<text x="859.2" y="228.8" font-size="13" fill="#bfc2c9" text-anchor="middle" font-weight="normal" textLength="10" lengthAdjust="spacingAndGlyphs">-2</text>
<text x="859.2" y="243" font-size="13" fill="#bfc2c9" text-anchor="middle" font-weight="normal" textLength="27.5" lengthAdjust="spacingAndGlyphs">RsiSE</text>
<g stroke="#2196f3" fill="none" stroke-linecap="round" stroke-linejoin="round" shape-rendering="auto">
<path d="M1054.7 161.3 L1114.1 272.4 M1101.1 268.6 L1114.1 272.4 L1118.1 259.4" stroke-width="2"/>
</g>
<ellipse cx="1114.1" cy="281.5" rx="50.1" ry="45.4" transform="rotate(-28 1114.1 281.5)" fill="#e91e63" fill-opacity="0.2" stroke="#e0224e" stroke-width="1" shape-rendering="auto"/>
<g stroke="#2196f3" fill="none" stroke-linecap="round" stroke-linejoin="round" shape-rendering="auto">
<path d="M1138.2 274.8 L1243.4 101 M1214.9 111.5 L1243.4 101 L1247.1 128.9" stroke-width="3"/>
</g>
<path d="M768.1 487.6 L787.6 509 H773.8 V576.6 H762.4 V509 H748.6 Z" fill="#ce9fd6" stroke="#ce9fd6" stroke-width="2.2" stroke-linejoin="round" shape-rendering="auto"/>
<rect x="6" y="43" width="1532" height="1" fill="#7a7a7a"/>
<rect x="6" y="804" width="1532" height="1" fill="#7a7a7a"/>
<rect x="6" y="43" width="1" height="762" fill="#7a7a7a"/>
<rect x="1537" y="43" width="1" height="762" fill="#7a7a7a"/>
<rect x="1483" y="43" width="1" height="762" fill="#7a7a7a"/>
<rect x="6" y="645" width="1532" height="1" fill="#7a7a7a"/>
<rect x="6" y="775" width="1532" height="1" fill="#7a7a7a"/>
<clipPath id="cp"><rect x="1484" y="44" width="53" height="601"/></clipPath>
<g clip-path="url(#cp)">
<rect x="1484" y="641" width="4" height="1" fill="#9a9da6"/>
<text x="1492" y="646.1" font-size="13" fill="#cfd2d9" text-anchor="start" font-weight="normal" textLength="36" lengthAdjust="spacingAndGlyphs" stroke="#cfd2d9" stroke-width="0.35">330.00</text>
<rect x="1484" y="586" width="4" height="1" fill="#9a9da6"/>
<text x="1492" y="591.1" font-size="13" fill="#cfd2d9" text-anchor="start" font-weight="normal" textLength="36" lengthAdjust="spacingAndGlyphs" stroke="#cfd2d9" stroke-width="0.35">340.00</text>
<rect x="1484" y="530" width="4" height="1" fill="#9a9da6"/>
<text x="1492" y="535.1" font-size="13" fill="#cfd2d9" text-anchor="start" font-weight="normal" textLength="36" lengthAdjust="spacingAndGlyphs" stroke="#cfd2d9" stroke-width="0.35">350.00</text>
<rect x="1484" y="475" width="4" height="1" fill="#9a9da6"/>
<text x="1492" y="480.1" font-size="13" fill="#cfd2d9" text-anchor="start" font-weight="normal" textLength="36" lengthAdjust="spacingAndGlyphs" stroke="#cfd2d9" stroke-width="0.35">360.00</text>
<rect x="1484" y="419" width="4" height="1" fill="#9a9da6"/>
<text x="1492" y="424.1" font-size="13" fill="#cfd2d9" text-anchor="start" font-weight="normal" textLength="36" lengthAdjust="spacingAndGlyphs" stroke="#cfd2d9" stroke-width="0.35">370.00</text>
<rect x="1484" y="364" width="4" height="1" fill="#9a9da6"/>
<text x="1492" y="369.1" font-size="13" fill="#cfd2d9" text-anchor="start" font-weight="normal" textLength="36" lengthAdjust="spacingAndGlyphs" stroke="#cfd2d9" stroke-width="0.35">380.00</text>
<rect x="1484" y="308" width="4" height="1" fill="#9a9da6"/>
<text x="1492" y="313.1" font-size="13" fill="#cfd2d9" text-anchor="start" font-weight="normal" textLength="36" lengthAdjust="spacingAndGlyphs" stroke="#cfd2d9" stroke-width="0.35">390.00</text>
<rect x="1484" y="253" width="4" height="1" fill="#9a9da6"/>
<text x="1492" y="258.1" font-size="13" fill="#cfd2d9" text-anchor="start" font-weight="normal" textLength="36" lengthAdjust="spacingAndGlyphs" stroke="#cfd2d9" stroke-width="0.35">400.00</text>
<rect x="1484" y="197" width="4" height="1" fill="#9a9da6"/>
<text x="1492" y="202.1" font-size="13" fill="#cfd2d9" text-anchor="start" font-weight="normal" textLength="36" lengthAdjust="spacingAndGlyphs" stroke="#cfd2d9" stroke-width="0.35">410.00</text>
<rect x="1484" y="142" width="4" height="1" fill="#9a9da6"/>
<text x="1492" y="147.1" font-size="13" fill="#cfd2d9" text-anchor="start" font-weight="normal" textLength="36" lengthAdjust="spacingAndGlyphs" stroke="#cfd2d9" stroke-width="0.35">420.00</text>
<rect x="1484" y="86" width="4" height="1" fill="#9a9da6"/>
<text x="1492" y="91.1" font-size="13" fill="#cfd2d9" text-anchor="start" font-weight="normal" textLength="36" lengthAdjust="spacingAndGlyphs" stroke="#cfd2d9" stroke-width="0.35">430.00</text>
</g>
<rect x="1484" y="659" width="4" height="1" fill="#9a9da6"/>
<text x="1492" y="664.1" font-size="13" fill="#cfd2d9" text-anchor="start" font-weight="normal" textLength="29.5" lengthAdjust="spacingAndGlyphs" stroke="#cfd2d9" stroke-width="0.35">80.00</text>
<rect x="1484" y="699" width="4" height="1" fill="#9a9da6"/>
<text x="1492" y="704.1" font-size="13" fill="#cfd2d9" text-anchor="start" font-weight="normal" textLength="29.5" lengthAdjust="spacingAndGlyphs" stroke="#cfd2d9" stroke-width="0.35">60.00</text>
<rect x="1484" y="739" width="4" height="1" fill="#9a9da6"/>
<text x="1492" y="744.1" font-size="13" fill="#cfd2d9" text-anchor="start" font-weight="normal" textLength="29.5" lengthAdjust="spacingAndGlyphs" stroke="#cfd2d9" stroke-width="0.35">40.00</text>
<rect x="1494.5" y="50.5" width="31" height="19" rx="3.5" fill="none" stroke="#2e3240" stroke-width="1" shape-rendering="auto"/>
<text x="1510" y="62.9" font-size="13" fill="#d6d8de" text-anchor="middle" font-weight="normal" textLength="21" lengthAdjust="spacingAndGlyphs">USD</text>
<rect x="1483" y="150" width="53" height="19" fill="#26a69a"/>
<rect x="1483" y="159" width="4" height="1" fill="#ffffff"/>
<text x="1492" y="164" font-size="13" fill="#ffffff" text-anchor="start" font-weight="normal" textLength="36" lengthAdjust="spacingAndGlyphs" stroke="#ffffff" stroke-width="0.35">416.88</text>
<rect x="1494" y="170" width="42" height="19" fill="#26a69a"/>
<text x="1498" y="184.3" font-size="13" fill="#ffffff" text-anchor="start" font-weight="normal" textLength="29" lengthAdjust="spacingAndGlyphs" stroke="#ffffff" stroke-width="0.35">21:09</text>
<rect x="103" y="776" width="1" height="3" fill="#8a8c94"/>
<text x="103" y="795.2" font-size="13" fill="#cfd2d9" text-anchor="middle" font-weight="bold" textLength="12.5" lengthAdjust="spacingAndGlyphs">15</text>
<rect x="212" y="776" width="1" height="3" fill="#8a8c94"/>
<text x="212" y="795.2" font-size="13" fill="#cfd2d9" text-anchor="middle" font-weight="bold" textLength="12.5" lengthAdjust="spacingAndGlyphs">16</text>
<rect x="321" y="776" width="1" height="3" fill="#8a8c94"/>
<text x="321" y="795.2" font-size="13" fill="#cfd2d9" text-anchor="middle" font-weight="bold" textLength="12.5" lengthAdjust="spacingAndGlyphs">17</text>
<rect x="431" y="776" width="1" height="3" fill="#8a8c94"/>
<text x="431" y="795.2" font-size="13" fill="#cfd2d9" text-anchor="middle" font-weight="bold" textLength="12.5" lengthAdjust="spacingAndGlyphs">18</text>
<rect x="540" y="776" width="1" height="3" fill="#8a8c94"/>
<text x="540" y="795.2" font-size="13" fill="#cfd2d9" text-anchor="middle" font-weight="bold" textLength="12.5" lengthAdjust="spacingAndGlyphs">19</text>
<rect x="649" y="776" width="1" height="3" fill="#8a8c94"/>
<text x="649" y="795.2" font-size="13" fill="#cfd2d9" text-anchor="middle" font-weight="bold" textLength="12.5" lengthAdjust="spacingAndGlyphs">20</text>
<rect x="758" y="776" width="1" height="3" fill="#8a8c94"/>
<text x="758" y="795.2" font-size="13" fill="#cfd2d9" text-anchor="middle" font-weight="bold" textLength="12.5" lengthAdjust="spacingAndGlyphs">21</text>
<rect x="868" y="776" width="1" height="3" fill="#8a8c94"/>
<text x="868" y="795.2" font-size="13" fill="#cfd2d9" text-anchor="middle" font-weight="bold" textLength="12.5" lengthAdjust="spacingAndGlyphs">22</text>
<rect x="977" y="776" width="1" height="3" fill="#8a8c94"/>
<text x="977" y="795.2" font-size="13" fill="#cfd2d9" text-anchor="middle" font-weight="bold" textLength="12.5" lengthAdjust="spacingAndGlyphs">23</text>
<rect x="1086" y="776" width="1" height="3" fill="#8a8c94"/>
<text x="1086" y="795.2" font-size="13" fill="#cfd2d9" text-anchor="middle" font-weight="bold" textLength="12.5" lengthAdjust="spacingAndGlyphs">24</text>
<rect x="1195" y="776" width="1" height="3" fill="#8a8c94"/>
<text x="1195" y="795.2" font-size="13" fill="#cfd2d9" text-anchor="middle" font-weight="bold" textLength="12.5" lengthAdjust="spacingAndGlyphs">25</text>
<rect x="1305" y="776" width="1" height="3" fill="#8a8c94"/>
<text x="1305" y="795.2" font-size="13" fill="#cfd2d9" text-anchor="middle" font-weight="bold" textLength="12.5" lengthAdjust="spacingAndGlyphs">26</text>
<rect x="1414" y="776" width="1" height="3" fill="#8a8c94"/>
<text x="1414" y="795.2" font-size="13" fill="#cfd2d9" text-anchor="middle" font-weight="bold" textLength="12.5" lengthAdjust="spacingAndGlyphs">27</text>
<text x="15.5" y="64.8" font-size="13" fill="#d3d5db" text-anchor="start" font-weight="bold" textLength="220.5" lengthAdjust="spacingAndGlyphs">Ethereum / U.S. Dollar, 1h, BITSTAMP</text>
<text x="15.5" y="82" font-size="13" fill="#cfd2d9" text-anchor="start" font-weight="normal" textLength="135" lengthAdjust="spacingAndGlyphs">RSI Strategy (14, 30, 70)</text>
<text x="15.5" y="98.6" font-size="13" fill="#cfd2d9" text-anchor="start" font-weight="normal" textLength="76.5" lengthAdjust="spacingAndGlyphs">MA Cross · 1D</text>
<text x="15.5" y="666.6" font-size="13" fill="#cfd2d9" text-anchor="start" font-weight="normal" textLength="77.5" lengthAdjust="spacingAndGlyphs">RSI (14, close)</text>
<text x="6.4" y="16.8" font-size="13" fill="#ffffff" text-anchor="start" font-weight="bold" textLength="60.6" lengthAdjust="spacingAndGlyphs">RudyFares</text>
<text x="70.5" y="16.8" font-size="13" fill="#ffffff" text-anchor="start" font-weight="normal" textLength="354" lengthAdjust="spacingAndGlyphs">published on TradingView.com, October 23, 2020 12:38:54 EET</text>
<text x="6.4" y="33.7" font-size="13" fill="#ffffff" text-anchor="start" font-weight="bold" textLength="132.6" lengthAdjust="spacingAndGlyphs">BITSTAMP:ETHUSD, 60</text>
<text x="144.5" y="33.7" font-size="13" fill="#ffffff" text-anchor="start" font-weight="normal" textLength="38" lengthAdjust="spacingAndGlyphs">416.88</text>
<path d="M185.7 35 L196.3 35 L191 24.3 Z" fill="#26a69a" shape-rendering="auto"/>
<text x="200.5" y="33.7" font-size="13" fill="#ffffff" text-anchor="start" font-weight="normal" textLength="84" lengthAdjust="spacingAndGlyphs">+2.32 (+0.56%)</text>
<text x="289.7" y="33.7" font-size="13" fill="#ffffff" text-anchor="start" font-weight="bold" textLength="11.7" lengthAdjust="spacingAndGlyphs">O:</text>
<text x="303" y="33.7" font-size="13" fill="#26a69a" text-anchor="start" font-weight="normal" textLength="38.5" lengthAdjust="spacingAndGlyphs">415.23</text>
<text x="346.2" y="33.7" font-size="13" fill="#ffffff" text-anchor="start" font-weight="bold" textLength="12" lengthAdjust="spacingAndGlyphs">H:</text>
<text x="359.7" y="33.7" font-size="13" fill="#26a69a" text-anchor="start" font-weight="normal" textLength="38.5" lengthAdjust="spacingAndGlyphs">419.11</text>
<text x="403.2" y="33.7" font-size="13" fill="#ffffff" text-anchor="start" font-weight="bold" textLength="9.3" lengthAdjust="spacingAndGlyphs">L:</text>
<text x="413.6" y="33.7" font-size="13" fill="#26a69a" text-anchor="start" font-weight="normal" textLength="38.5" lengthAdjust="spacingAndGlyphs">415.23</text>
<text x="457" y="33.7" font-size="13" fill="#ffffff" text-anchor="start" font-weight="bold" textLength="10.7" lengthAdjust="spacingAndGlyphs">C:</text>
<text x="468.8" y="33.7" font-size="13" fill="#26a69a" text-anchor="start" font-weight="normal" textLength="38.5" lengthAdjust="spacingAndGlyphs">416.88</text>
<g shape-rendering="auto">
<path d="M10.2 830 C7.2 830 5.9 828 5.9 825.9 C5.9 823.2 8 821.3 10.6 821.5 C11.3 817.6 14.3 815 17.8 815 C20.7 815 23.2 816.6 24.5 819.1 C25.1 819 25.6 818.9 26.2 818.9 C29.5 818.9 32.1 821.4 32.1 824.5 C32.1 827.6 29.8 830 26.6 830 Z" fill="#2196f3"/>
<path d="M6.5 828.8 L15.8 820.3 L22.2 826 L30.8 819.5" stroke="#131722" stroke-width="1.2" fill="none"/>
<circle cx="15.8" cy="820.4" r="1.9" fill="#131722"/><circle cx="22.2" cy="826" r="1.9" fill="#131722"/>
</g>
<text x="34.4" y="827" font-size="13" fill="#ffffff" text-anchor="start" font-weight="normal" textLength="70.3" lengthAdjust="spacingAndGlyphs">TradingView</text>
</svg>
</body></html>
